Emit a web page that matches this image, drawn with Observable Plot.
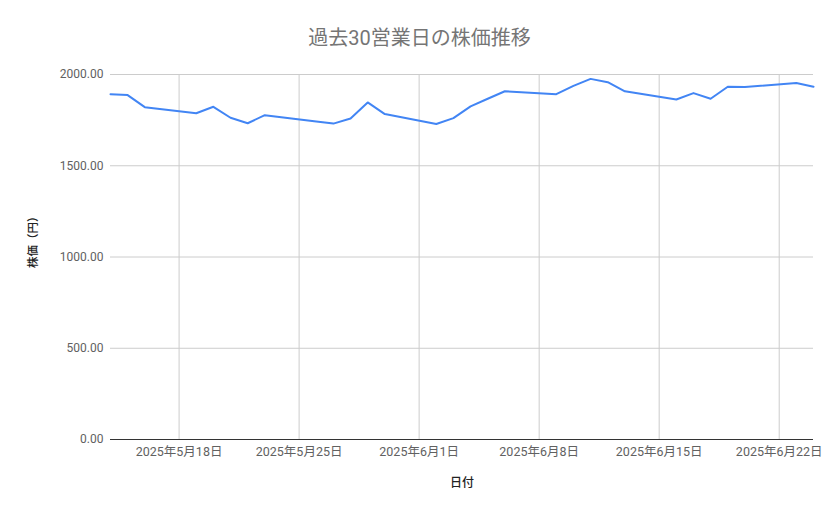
<!DOCTYPE html>
<html>
<head>
<meta charset="utf-8">
<script src="https://cdn.jsdelivr.net/npm/d3@7"></script>
<script src="https://cdn.jsdelivr.net/npm/@observablehq/plot@0.6"></script>
<style>
  html, body { margin: 0; padding: 0; background: #fff; }
  body { width: 839px; height: 519px; overflow: hidden; font-family: Roboto, "Noto Sans CJK JP", sans-serif; }
  #title { height: 60px; box-sizing: border-box; padding-top: 26px; font-size: 20px; line-height: 24px; color: #757575; text-align: center; width: 839px; }
</style>
</head>
<body>
<div id="title">過去30営業日の株価推移</div>
<div id="chart"></div>
<script>
const dates = [
  "2025-05-14","2025-05-15","2025-05-16",
  "2025-05-19","2025-05-20","2025-05-21","2025-05-22","2025-05-23",
  "2025-05-26","2025-05-27","2025-05-28","2025-05-29","2025-05-30",
  "2025-06-02","2025-06-03","2025-06-04","2025-06-05","2025-06-06",
  "2025-06-09","2025-06-10","2025-06-11","2025-06-12","2025-06-13",
  "2025-06-16","2025-06-17","2025-06-18","2025-06-19","2025-06-20",
  "2025-06-23","2025-06-24"
];
const prices = [
  1892, 1887, 1821,
  1788, 1823, 1763, 1733, 1777,
  1743, 1731, 1759, 1847, 1783,
  1729, 1761, 1825, 1867, 1908,
  1892, 1938, 1976, 1958, 1908,
  1863, 1898, 1867, 1933, 1931,
  1953, 1933
];
const xTicks = ["2025-05-18","2025-05-25","2025-06-01","2025-06-08","2025-06-15","2025-06-22"];
const yTicks = [0, 500, 1000, 1500, 2000];
const xDomain = ["2025-05-14", "2025-06-24"];

const data = dates.map((d, i) => ({date: new Date(d + "T00:00:00Z"), price: prices[i]}));
const xt = xTicks.map(d => new Date(d + "T00:00:00Z"));
const fmtDate = d => `${d.getUTCFullYear()}年${d.getUTCMonth() + 1}月${d.getUTCDate()}日`;

const chart = Plot.plot({
  width: 839,
  height: 459,
  marginLeft: 110,
  marginRight: 26,
  marginTop: 14,
  marginBottom: 80,
  style: {fontFamily: 'Roboto, "Noto Sans CJK JP", sans-serif', background: "#fff"},
  x: {type: "utc", domain: xDomain.map(d => new Date(d + "T00:00:00Z"))},
  y: {domain: [0, 2000]},
  marks: [
    Plot.gridY(yTicks, {stroke: "#cccccc", strokeOpacity: 1}),
    Plot.gridX(xt, {stroke: "#cccccc", strokeOpacity: 1}),
    Plot.ruleY([0], {stroke: "#333333"}),
    Plot.lineY(data, {x: "date", y: "price", stroke: "#4285f4", strokeWidth: 2, curve: "linear"}),
    Plot.axisY(yTicks, {tickSize: 0, tickPadding: 7, tickFormat: d => d.toFixed(2), fontSize: 12, fill: "#616161", label: null}),
    Plot.axisX(xt, {tickSize: 0, tickPadding: 8, tickFormat: fmtDate, fontSize: 12.5, fill: "#616161", label: null}),
    Plot.text(["日付"], {frameAnchor: "bottom", dy: 47, fontSize: 12, fill: "#222", fontWeight: 500}),
    Plot.text(["株価（円）"], {frameAnchor: "left", dx: -77, dy: 11, rotate: -90, fontSize: 11.5, fill: "#222", fontWeight: 500})
  ]
});
document.getElementById("chart").appendChild(chart);
</script>
</body>
</html>
